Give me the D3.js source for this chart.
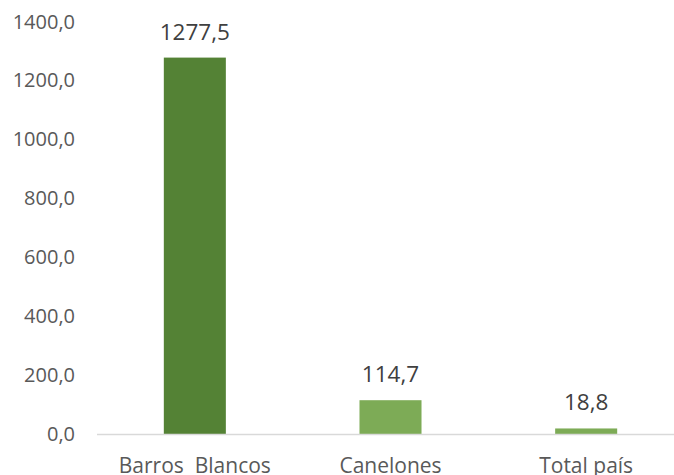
<!DOCTYPE html>
<html>
<head>
<meta charset="utf-8">
<style>
  body { margin: 0; background: #fff; }
  svg text { font-family: "Open Sans", sans-serif; }
</style>
</head>
<body>
<svg id="chart" width="674" height="475"></svg>
<script src="https://cdn.jsdelivr.net/npm/d3@7"></script>
<script>
// chart data
const categories = ["Barros  Blancos", "Canelones", "Total país"];
const values = [1277.5, 114.7, 18.8];
const barColors = ["#548235", "#7dab56", "#7dab56"];
const yTicks = [0, 200, 400, 600, 800, 1000, 1200, 1400];

const svg = d3.select("#chart");
const fmt = v => d3.format(".1f")(v).replace(".", ",");

let x = d3.scaleBand().domain(categories).range([97, 684])
  .paddingInner(0.683).paddingOuter(0.3415);
let y = d3.scaleLinear().domain([0, 1400]).range([434, 21.5]);

// y tick labels
svg.append("g").selectAll("text").data(yTicks).join("text")
  .attr("x", 75).attr("y", d => y(d)).attr("dy", "0.35em")
  .attr("text-anchor", "end").attr("font-size", "20px").attr("fill", "#595959")
  .text(fmt);

// bars
svg.append("g").selectAll("rect").data(values).join("rect")
  .attr("x", (d, i) => x(categories[i]))
  .attr("width", x.bandwidth())
  .attr("y", d => y(d))
  .attr("height", d => y(0) - y(d))
  .attr("fill", (d, i) => barColors[i]);

// baseline
svg.append("line").attr("x1", 97).attr("x2", 684)
  .attr("y1", y(0) + 0.5).attr("y2", y(0) + 0.5)
  .attr("stroke", "#d9d9d9").attr("stroke-width", 1.5);

// value labels
svg.append("g").selectAll("text").data(values).join("text")
  .attr("x", (d, i) => x(categories[i]) + x.bandwidth() / 2)
  .attr("y", d => y(d) - 18)
  .attr("text-anchor", "middle").attr("font-size", "22.5px").attr("fill", "#404040")
  .text(fmt);

// category labels (cut at the bottom edge, as in the original)
svg.append("g").selectAll("text").data(categories).join("text")
  .attr("x", d => x(d) + x.bandwidth() / 2)
  .attr("y", 472.5)
  .attr("text-anchor", "middle").attr("font-size", "21px").attr("fill", "#595959")
  .style("white-space", "pre")
  .text(d => d);
</script>
</body>
</html>
